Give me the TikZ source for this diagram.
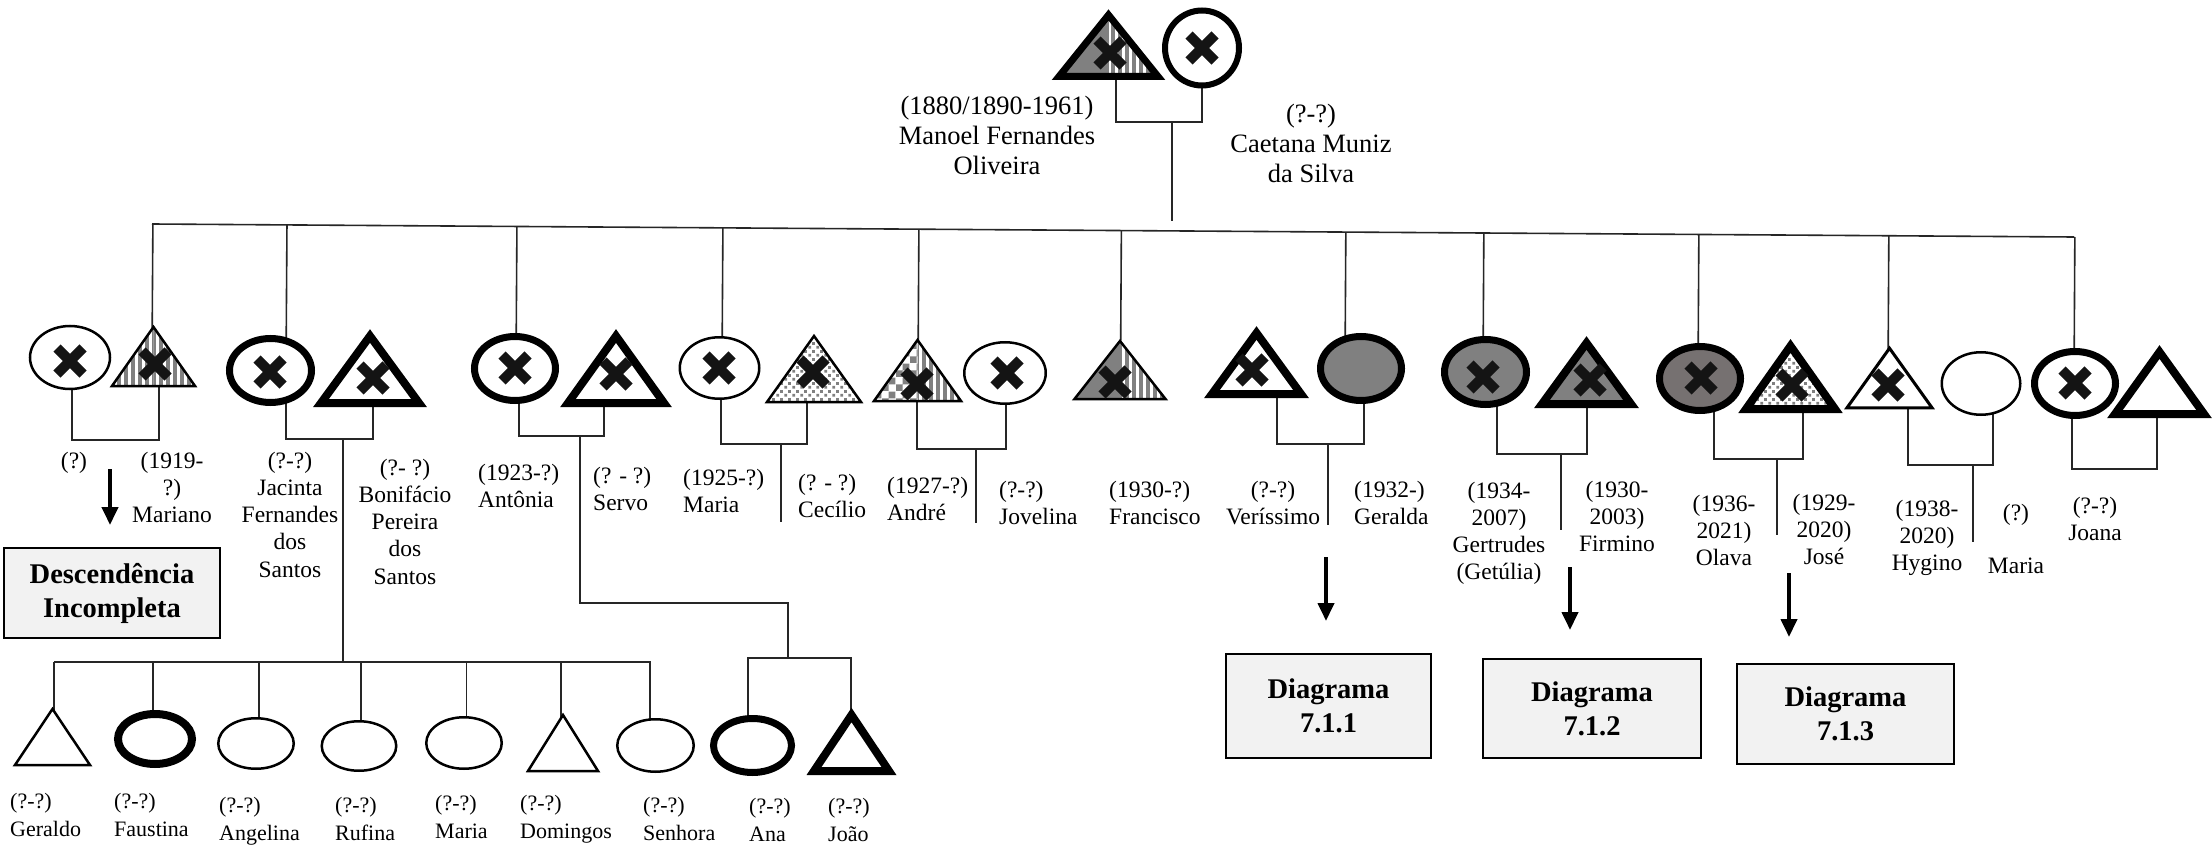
\documentclass[tikz,border=0pt]{standalone}
\usepackage{fontspec}
\setmainfont{Liberation Serif}
\usetikzlibrary{shapes.geometric,arrows.meta,patterns.meta,calc}

\pgfdeclarelayer{wires}
\pgfsetlayers{wires,main}

\definecolor{darkfill}{RGB}{118,113,113}
\definecolor{boxfill}{RGB}{242,242,242}

\newcommand\lblfont{\fontsize{23.5pt}{27.3pt}\selectfont}
\newcommand\topfont{\fontsize{26.5pt}{30pt}\selectfont}
\newcommand\btmfont{\fontsize{22pt}{28pt}\selectfont}
\newcommand\boxfont{\bfseries\fontsize{28.5pt}{34pt}\selectfont}

% small staggered squares
\pgfdeclarepattern{name=sqdots, type=uncolored,
  bottom left={\pgfpoint{0pt}{0pt}}, top right={\pgfpoint{8pt}{8pt}},
  tile size={\pgfpoint{8pt}{8pt}},
  code={\pgfpathrectangle{\pgfpoint{0.5pt}{0.5pt}}{\pgfpoint{3pt}{3pt}}%
        \pgfpathrectangle{\pgfpoint{4.5pt}{4.5pt}}{\pgfpoint{3pt}{3pt}}%
        \pgfusepath{fill}}}
% checkerboard
\pgfdeclarepattern{name=checks, type=uncolored,
  bottom left={\pgfpoint{0pt}{0pt}}, top right={\pgfpoint{14pt}{14pt}},
  tile size={\pgfpoint{14pt}{14pt}},
  code={\pgfpathrectangle{\pgfpoint{0pt}{0pt}}{\pgfpoint{7pt}{7pt}}%
        \pgfpathrectangle{\pgfpoint{7pt}{7pt}}{\pgfpoint{7pt}{7pt}}%
        \pgfusepath{fill}}}

\tikzset{
  conn/.style={line width=1.6pt, draw=black!85},
  fem/.style={ellipse, draw, fill=white, inner sep=0pt, line width=2.5pt},
  femk/.style={fem, line width=7pt},
  tribox/.style={rectangle, draw=none, inner sep=0pt, outer sep=0pt},
  trithin/.style={draw, line width=2.5pt, line join=miter},
  trithick/.style={draw, line width=8pt, line join=miter},
  stripes/.style={pattern={Lines[angle=90,distance=7pt,line width=3.5pt]}, pattern color=gray},
  dotted squares/.style={pattern=sqdots, pattern color=gray},
  checkered/.style={pattern=checks, pattern color=gray},
  xmk/.style={line width=10pt, draw=black!92},
  arr/.style={line width=4pt, -{Triangle[length=18pt,width=16pt]}},
  dbox/.style={draw, line width=2.5pt, fill=boxfill, font=\boxfont, align=center, inner sep=0pt},
  % multi-line labels sit on the baseline of their last line
  lbl/.style={font=\lblfont, align=center, anchor=base, inner sep=0pt},
  lbll/.style={lbl, align=left, anchor=base west},
  blbl/.style={font=\btmfont, align=left, anchor=base west, inner sep=0pt},
}

% triangle drawn inside the box node #1: left half #2, right half #3, border #4
\newcommand\trishape[4]{%
  \begin{scope}
    \clip (#1.south west) -- (#1.north) -- (#1.south east) -- cycle;
    \fill[white] (#1.south west) rectangle (#1.north east);
    \fill[#2] (#1.south west) rectangle (#1.north);
    \fill[#3] (#1.south) rectangle (#1.north east);
  \end{scope}
  \draw[#4] (#1.south west) -- (#1.north) -- (#1.south east) -- cycle;}
% deceased mark
\newcommand\xmark[1]{\draw[xmk] (#1) +(-13,-13) -- +(13,13) +(-13,13) -- +(13,-13);}
% vertical drop from the sloped sibling bar into node #1, shifted by #2
\newcommand\busdrop[2]{%
  \coordinate (dropend) at ([xshift=#2]#1.center);
  \draw[conn] ($(busL)!(dropend)!(busR)$) -- (dropend);}

\begin{document}
\begin{tikzpicture}[x=1pt,y=-1pt]
\useasboundingbox (0,0) rectangle (2212,853);

% ---------- generation 1 ----------
\node[tribox, minimum width=99pt, minimum height=61.5pt] (man) at (1108.5,45.75) {};
\trishape{man}{gray}{stripes}{trithick, line width=7pt}
\xmark{1110,53}
\node[femk, line width=6pt, minimum width=74pt, minimum height=75pt] (cae) at (1202,48) {};
\xmark{1202,48}

\node[lbl, font=\topfont] (l-man) at (997,175) {(1880/1890-1961)\\Manoel Fernandes\\Oliveira};
\node[lbl, font=\topfont] (l-cae) at (1311,183) {(?-?)\\Caetana Muniz\\da Silva};

% ---------- generation 2 ----------
\node[fem, minimum width=80pt, minimum height=63pt] (marw) at (70,357.5) {};
\xmark{70,361}
\node[tribox, minimum width=83pt, minimum height=59pt] (mar) at (153.5,356.5) {};
\trishape{mar}{stripes}{stripes}{trithin}
\xmark{155,364}

\node[femk, minimum width=82pt, minimum height=64pt] (jac) at (270.5,370.5) {};
\xmark{270,372}
\node[tribox, minimum width=98pt, minimum height=67pt] (bon) at (370,369.5) {};
\trishape{bon}{white}{white}{trithick}
\xmark{373,378}

\node[femk, minimum width=81pt, minimum height=64pt] (ant) at (515,368.5) {};
\xmark{515,368}
\node[tribox, minimum width=96pt, minimum height=67pt] (ser) at (616,369.5) {};
\trishape{ser}{white}{white}{trithick}
\xmark{616,374}

\node[fem, minimum width=79.5pt, minimum height=61.5pt] (mar2) at (719.5,368) {};
\xmark{719,368}
\node[tribox, minimum width=94pt, minimum height=66pt] (cec) at (814,369) {};
\trishape{cec}{dotted squares}{dotted squares}{trithin}
\xmark{813,372}

\node[tribox, minimum width=87pt, minimum height=61pt] (and) at (917.5,370.5) {};
\trishape{and}{checkered}{stripes}{trithin}
\xmark{917,384}
\node[fem, minimum width=81.5pt, minimum height=61.5pt] (jov) at (1005,373) {};
\xmark{1007,373}

\node[tribox, minimum width=91pt, minimum height=58pt] (fra) at (1120,370) {};
\trishape{fra}{gray}{stripes}{trithin}
\xmark{1115,382}

\node[tribox, minimum width=89pt, minimum height=61pt] (ver) at (1256.5,363.5) {};
\trishape{ver}{white}{white}{trithick}
\xmark{1252,370}
\node[femk, fill=gray, minimum width=81pt, minimum height=64pt] (ger) at (1361,368.5) {};

\node[femk, fill=gray, minimum width=82pt, minimum height=65pt] (gert) at (1485.5,372) {};
\xmark{1483,377}
\node[tribox, minimum width=89pt, minimum height=61pt] (fir) at (1586.5,373.5) {};
\trishape{fir}{gray}{gray}{trithick}
\xmark{1590,380}

\node[femk, fill=darkfill, minimum width=81pt, minimum height=64pt] (ola) at (1700,378.5) {};
\xmark{1701,378}
\node[tribox, minimum width=89pt, minimum height=63pt] (jos) at (1790.5,377.5) {};
\trishape{jos}{dotted squares}{dotted squares}{trithick}
\xmark{1792,385}

\node[tribox, minimum width=85pt, minimum height=59.5pt] (hyg) at (1889.5,378) {};
\trishape{hyg}{white}{white}{trithin, line width=3pt}
\xmark{1888,385}
\node[fem, minimum width=78.5pt, minimum height=62.5pt] (mar3) at (1981,383.5) {};

\node[femk, minimum width=81pt, minimum height=64pt] (joa) at (2075,383.5) {};
\xmark{2075,383}
\node[tribox, minimum width=89pt, minimum height=62pt] (joah) at (2159.5,383) {};
\trishape{joah}{white}{white}{trithick}

% labels, generation 2
\node[lbl] (l-marw) at (74,468) {(?)};
\node[lbl] (l-mar) at (172,522.6) {(1919-\\?)\\Mariano};
\node[lbl] (l-jac) at (290,577.2) {(?-?)\\Jacinta\\Fernandes\\dos\\Santos};
\node[lbl] (l-bon) at (405,584.2) {(?- ?)\\Bonifácio\\Pereira\\dos\\Santos};
\node[lbll] (l-ant) at (478,507.3) {(1923-?)\\Antônia};
\node[lbll] (l-ser) at (593,510.3) {(? - ?)\\Servo};
\node[lbll] (l-mar2) at (683,512.3) {(1925-?)\\Maria};
\node[lbll] (l-cec) at (798,517.3) {(? - ?)\\Cecílio};
\node[lbll] (l-and) at (887,520.3) {(1927-?)\\André};
\node[lbll] (l-jov) at (999,524.3) {(?-?)\\Jovelina};
\node[lbll] (l-fra) at (1109,524.3) {(1930-?)\\Francisco};
\node[lbl] (l-ver) at (1273,524.3) {(?-?)\\Veríssimo};
\node[lbll] (l-ger) at (1354,524.3) {(1932-)\\Geralda};
\node[lbl] (l-gert) at (1499,579.9) {(1934-\\2007)\\Gertrudes\\(Getúlia)};
\node[lbl] (l-fir) at (1617,551.6) {(1930-\\2003)\\Firmino};
\node[lbl] (l-ola) at (1724,565.6) {(1936-\\2021)\\Olava};
\node[lbl] (l-jos) at (1824,564.6) {(1929-\\2020)\\José};
\node[lbl] (l-hyg) at (1927,570.6) {(1938-\\2020)\\Hygino};
\node[lbl] (l-mar3a) at (2016,520) {(?)};
\node[lbl] (l-mar3b) at (2016,573) {Maria};
\node[lbl] (l-joa) at (2095,540.3) {(?-?)\\Joana};

% ---------- generation 3 ----------
\node[tribox, minimum width=75pt, minimum height=56pt] (gera) at (52.5,737) {};
\trishape{gera}{white}{white}{trithin}
\node[fem, line width=8pt, minimum width=74pt, minimum height=50pt] (fau) at (155,739) {};
\node[fem, minimum width=75.5pt, minimum height=50.5pt] (ang) at (256,743.5) {};
\node[fem, minimum width=74.5pt, minimum height=49.5pt] (ruf) at (359,746) {};
\node[fem, minimum width=75.5pt, minimum height=51.5pt] (mar4) at (464,743) {};
\node[tribox, minimum width=70pt, minimum height=56pt] (dom) at (563,743) {};
\trishape{dom}{white}{white}{trithin}
\node[fem, minimum width=76.5pt, minimum height=52.5pt] (sen) at (655.5,745.5) {};
\node[femk, minimum width=78pt, minimum height=54pt] (ana) at (752.5,745.5) {};
\node[tribox, minimum width=75pt, minimum height=56pt] (joao) at (851.5,743) {};
\trishape{joao}{white}{white}{trithick}

\node[blbl] (l-gera) at (10,836) {(?-?)\\Geraldo};
\node[blbl] (l-fau) at (114,836) {(?-?)\\Faustina};
\node[blbl] (l-ang) at (219,840) {(?-?)\\Angelina};
\node[blbl] (l-ruf) at (335,840) {(?-?)\\Rufina};
\node[blbl] (l-mar4) at (435,838) {(?-?)\\Maria};
\node[blbl] (l-dom) at (520,838) {(?-?)\\Domingos};
\node[blbl] (l-sen) at (643,840) {(?-?)\\Senhora};
\node[blbl] (l-ana) at (749,841) {(?-?)\\Ana};
\node[blbl] (l-joao) at (828,841) {(?-?)\\João};

% ---------- reference boxes and arrows ----------
\node[dbox, minimum width=216pt, minimum height=90pt] (desc) at (112,593) {Descendência\\Incompleta};
\node[dbox, minimum width=205pt, minimum height=104pt] (d1) at (1328.5,706) {Diagrama\\7.1.1};
\node[dbox, minimum width=218pt, minimum height=99pt] (d2) at (1592,708.5) {Diagrama\\7.1.2};
\node[dbox, minimum width=217pt, minimum height=100pt] (d3) at (1845.5,714) {Diagrama\\7.1.3};

\coordinate (am0) at (110,469);  \coordinate (am1) at (110,525);
\coordinate (a10) at (1326,557); \coordinate (a11) at (1326,621);
\coordinate (a20) at (1570,567); \coordinate (a21) at (1570,630);
\coordinate (a30) at (1789,573); \coordinate (a31) at (1789,637);
\draw[arr] (am0) -- (am1);
\draw[arr] (a10) -- (a11);
\draw[arr] (a20) -- (a21);
\draw[arr] (a30) -- (a31);

% ---------- connecting lines (behind the symbols) ----------
\begin{pgfonlayer}{wires}
\fill[white] (0,0) rectangle (2212,853);

% parents
\coordinate (m0) at (1172,122);
\coordinate (m0b) at (1172,221);
\draw[conn] ([xshift=7.5pt]man.center) |- (m0) -| (cae.center);
\draw[conn] (m0) -- (m0b);

% sibling bar and drops
\coordinate (busL) at (152,224);
\coordinate (busR) at (2074,237);
\draw[conn] (busL) -- (busR);
\busdrop{mar}{-1.5pt}
\busdrop{jac}{15.5pt}
\busdrop{ant}{1pt}
\busdrop{mar2}{2.5pt}
\busdrop{and}{0.5pt}
\busdrop{fra}{0.5pt}
\busdrop{ger}{-16pt}
\busdrop{gert}{-2.5pt}
\busdrop{ola}{-2pt}
\busdrop{hyg}{-1.5pt}
\busdrop{joa}{-1pt}

% couples
\coordinate (c1) at (115,440);
\draw[conn] ([xshift=2pt]marw.center) |- (c1) -| ([xshift=5.5pt]mar.center);

\coordinate (c2) at (343,439);
\coordinate (bus2L) at (54,662);
\draw[conn] ([xshift=15.5pt]jac.center) |- (c2) -| ([xshift=3pt]bon.center);
\draw[conn] (c2) |- (bus2L);

\coordinate (c3) at (580,436);
\coordinate (c3a) at (788,603);
\coordinate (c3b) at (788,658);
\draw[conn] ([xshift=4pt]ant.center) |- (c3) -| ([xshift=-12pt]ser.center);
\draw[conn] (c3) |- (c3a) -- (c3b);
\draw[conn] ([xshift=-4.5pt]ana.center) |- (c3b) -| ([xshift=-0.5pt]joao.center);

\coordinate (c4) at (781,444);  \coordinate (c4e) at (781,522);
\draw[conn] ([xshift=1.5pt]mar2.center) |- (c4) -| ([xshift=-7pt]cec.center);
\draw[conn] (c4) -- (c4e);

\coordinate (c5) at (976,449);  \coordinate (c5e) at (976,523);
\draw[conn] ([xshift=-0.5pt]and.center) |- (c5) -| ([xshift=1pt]jov.center);
\draw[conn] (c5) -- (c5e);

\coordinate (c6) at (1328,444); \coordinate (c6e) at (1328,525);
\draw[conn] ([xshift=20.5pt]ver.center) |- (c6) -| ([xshift=3pt]ger.center);
\draw[conn] (c6) -- (c6e);

\coordinate (c7) at (1561,454); \coordinate (c7e) at (1561,530);
\draw[conn] ([xshift=11.5pt]gert.center) |- (c7) -| ([xshift=0.5pt]fir.center);
\draw[conn] (c7) -- (c7e);

\coordinate (c8) at (1777,459); \coordinate (c8e) at (1777,535);
\draw[conn] ([xshift=14pt]ola.center) |- (c8) -| ([xshift=12.5pt]jos.center);
\draw[conn] (c8) -- (c8e);

\coordinate (c9) at (1973,465); \coordinate (c9e) at (1973,542);
\draw[conn] ([xshift=18.5pt]hyg.center) |- (c9) -| ([xshift=12pt]mar3.center);
\draw[conn] (c9) -- (c9e);

\coordinate (c10) at (2115,469);
\draw[conn] ([xshift=-3pt]joa.center) |- (c10) -| ([xshift=-2.5pt]joah.center);

% children of Jacinta and Bonifácio
\draw[conn] ([xshift=1.5pt]gera.center) |- (bus2L);
\draw[conn] ([xshift=-2pt]fau.center) |- (bus2L);
\draw[conn] ([xshift=3pt]ang.center) |- (bus2L);
\draw[conn] ([xshift=2pt]ruf.center) |- (bus2L);
\draw[conn] ([xshift=2.5pt]mar4.center) |- (bus2L);
\draw[conn] ([xshift=-2pt]dom.center) |- (bus2L);
\draw[conn] ([xshift=-5.5pt]sen.center) |- (bus2L);
\end{pgfonlayer}

\end{tikzpicture}
\end{document}
